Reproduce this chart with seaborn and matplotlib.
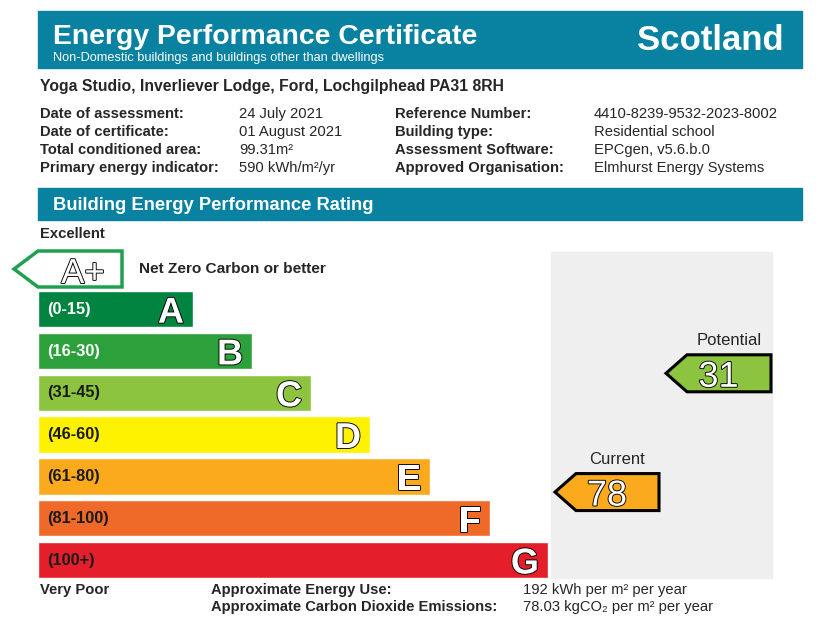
import numpy as np
import matplotlib
matplotlib.use("Agg")
import matplotlib.pyplot as plt
import matplotlib.patheffects as pe
from matplotlib.patches import Rectangle, Polygon
import seaborn as sns

sns.set_theme(style="white")
plt.rcParams["font.family"] = ["Liberation Sans", "DejaVu Sans"]

bands = ["A", "B", "C", "D", "E", "F", "G"]
band_ranges = ["(0-15)", "(16-30)", "(31-45)", "(46-60)", "(61-80)", "(81-100)", "(100+)"]
band_lengths = [155, 214, 273, 332, 392, 452, 510]
band_colors = ["#00843f", "#2ca03a", "#8cc43f", "#fff200", "#fbaa1e", "#ef6a28", "#e41f2b"]
band_edges = [0, 15.5, 30.5, 45.5, 60.5, 80.5, 100.5, 150]
current_rating = 78
potential_rating = 31

info_left = [("Date of assessment:", "24 July 2021"),
             ("Date of certificate:", "01 August 2021"),
             ("Total conditioned area:", "99.31m²"),
             ("Primary energy indicator:", "590 kWh/m²/yr")]
info_right = [("Reference Number:", "4410-8239-9532-2023-8002"),
              ("Building type:", "Residential school"),
              ("Assessment Software:", "EPCgen, v5.6.b.0"),
              ("Approved Organisation:", "Elmhurst Energy Systems")]
address = "Yoga Studio, Inverliever Lodge, Ford, Lochgilphead PA31 8RH"
energy_use = "192 kWh per m² per year"
co2_use = "78.03 kgCO₂ per m² per year"

teal = "#0882a0"
outline = [pe.Stroke(linewidth=1.3, foreground="black"), pe.Normal()]

fig = plt.figure(figsize=(8.39, 6.24), dpi=100)
ax = fig.add_axes([0, 0, 1, 1])
ax.set_xlim(0, 839)
ax.set_ylim(624, 0)
ax.axis("off")

# header
ax.add_patch(Rectangle((38, 11), 764, 57, color=teal))
ax.text(53, 44, "Energy Performance Certificate", color="white", fontsize=20.4,
        fontweight="bold", va="baseline")
ax.text(53, 58, "Non-Domestic buildings and buildings other than dwellings",
        color="white", fontsize=9.2, va="center")
ax.text(784, 40, "Scotland", color="white", fontsize=25, fontweight="bold",
        ha="right", va="center")

ax.text(40, 87, address, fontsize=11.3, fontweight="bold", va="center")
for i, (lab, val) in enumerate(info_left):
    ax.text(40, 114 + 18 * i, lab, fontsize=10.6, fontweight="bold", va="center")
    ax.text(239, 114 + 18 * i, val, fontsize=10.6, va="center")
for i, (lab, val) in enumerate(info_right):
    ax.text(395, 114 + 18 * i, lab, fontsize=10.6, fontweight="bold", va="center")
    ax.text(594, 114 + 18 * i, val, fontsize=10.6, va="center")

ax.add_patch(Rectangle((38, 188), 764, 32, color=teal))
ax.text(53, 205, "Building Energy Performance Rating", color="white", fontsize=13.2,
        fontweight="bold", va="center")

ax.text(40, 234, "Excellent", fontsize=10.6, fontweight="bold", va="center")
ax.add_patch(Polygon([(14, 269), (38, 251), (122, 251), (122, 287), (38, 287)],
                     closed=True, facecolor="white", edgecolor="#1ea04e", lw=2.5))
ax.text(83, 270, "A+", color="white", fontsize=25, ha="center", va="center_baseline",
        path_effects=outline)
ax.text(139, 269, "Net Zero Carbon or better", fontsize=11.1, fontweight="bold",
        va="center")

# grey panel behind the rating arrows
ax.add_patch(Rectangle((551, 252), 221, 326, color="#efefef", zorder=0))

ax.text(40, 590, "Very Poor", fontsize=10.6, fontweight="bold", va="center")
ax.text(211, 590, "Approximate Energy Use:", fontsize=10.6, fontweight="bold", va="center")
ax.text(211, 607, "Approximate Carbon Dioxide Emissions:", fontsize=10.6,
        fontweight="bold", va="center")
ax.text(523, 590, energy_use, fontsize=10.6, va="center")
ax.text(523, 607, co2_use, fontsize=10.6, va="center")

# rating bars
slot = 41.8
top = 288.3
bax = fig.add_axes([38 / 839, (624 - (top + 7 * slot)) / 624, 801 / 839, 7 * slot / 624])
bax.set_facecolor("none")
sns.barplot(x=band_lengths, y=bands, hue=bands, palette=band_colors, legend=False,
            width=0.87, saturation=1, orient="h", ax=bax)
bax.set_xlim(0, 801)
bax.set_ylim(6.5, -0.5)
bax.axis("off")

for i, (rng, ln) in enumerate(zip(band_ranges, band_lengths)):
    bax.text(9, i, rng, fontsize=11.8, fontweight="bold", va="center",
             color="white" if i < 2 else "#1a1a1a")
    bax.text(ln - 9, i, bands[i], color="white", fontsize=26, fontweight="bold",
             ha="right", va="center_baseline", path_effects=outline)


def rating_arrow(rating, tip_x, body_x, right_x, label):
    yc = np.interp(rating, band_edges, np.arange(-0.5, 7.5, 1))
    band = int(np.searchsorted(band_edges, rating)) - 1
    h = 37 / slot
    pts = [(tip_x, yc), (body_x, yc - h / 2), (right_x, yc - h / 2),
           (right_x, yc + h / 2), (body_x, yc + h / 2)]
    bax.add_patch(Polygon(pts, closed=True, facecolor=band_colors[band],
                          edgecolor="black", lw=2.2, zorder=3))
    bax.text((tip_x + right_x) / 2, yc, str(rating), color="white", fontsize=26,
             ha="center", va="center_baseline", path_effects=outline, zorder=4)
    bax.text((body_x + right_x) / 2, yc - h / 2 - 14 / slot, label, fontsize=12,
             ha="center", va="center", zorder=4)


rating_arrow(potential_rating, 628, 649, 733, "Potential")
rating_arrow(current_rating, 517, 538, 621, "Current")

fig.savefig("out.png", dpi=100)
